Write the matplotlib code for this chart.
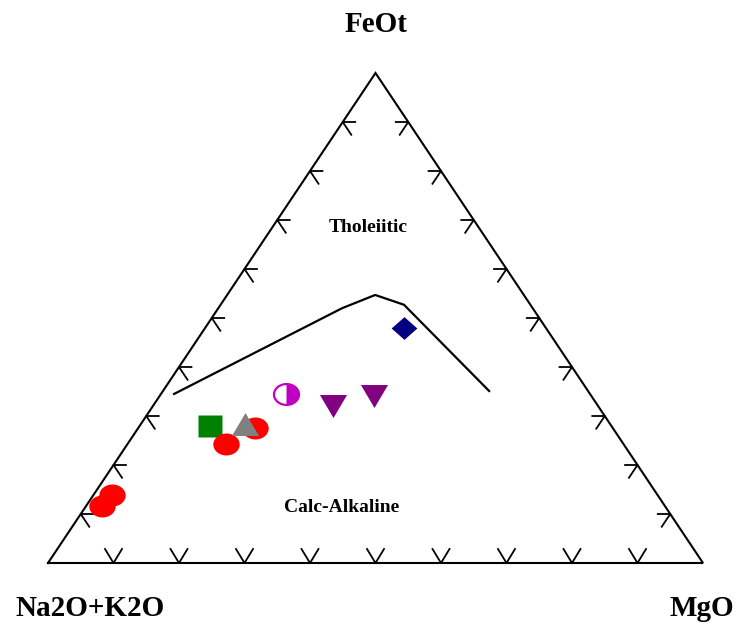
import numpy as np
import matplotlib
matplotlib.use("Agg")
import matplotlib.pyplot as plt
from matplotlib.path import Path
from matplotlib.markers import MarkerStyle
from matplotlib.transforms import Affine2D

# ---------------- data (wt% FeOt, Na2O+K2O, MgO) ----------------
apex_labels = ["FeOt", "Na2O+K2O", "MgO"]
field_labels = ["Tholeiitic", "Calc-Alkaline"]

red_feo = [13.9, 11.6, 24.3, 27.6]
red_alk = [83.3, 85.8, 60.7, 54.6]
red_mgo = [2.8, 2.5, 15.0, 17.8]

green_feo = [28.0]
green_alk = [61.3]
green_mgo = [10.7]

gray_feo = [28.4]
gray_alk = [55.7]
gray_mgo = [15.9]

half_feo = [34.5]
half_alk = [46.4]
half_mgo = [19.1]

purple_feo = [32.1, 34.1]
purple_alk = [40.5, 33.2]
purple_mgo = [27.5, 32.7]

navy_feo = [47.9]
navy_alk = [21.7]
navy_mgo = [30.4]

# Irvine & Baragar boundary
line_feo = [34.5, 52.0, 54.7, 52.7, 35.1]
line_alk = [63.5, 29.1, 22.7, 19.3, 15.1]
line_mgo = [2.0, 18.9, 22.6, 28.0, 49.8]

tick_values = [10, 20, 30, 40, 50, 60, 70, 80, 90]


def tern(f, a, m):
    f = np.asarray(f, float)
    a = np.asarray(a, float)
    m = np.asarray(m, float)
    s = f + a + m
    f, m = f / s, m / s
    return m + f / 2.0, f


def stretched(verts, codes=None, sx=1.18):
    p = Path(np.asarray(verts, float), codes)
    return MarkerStyle(p.transformed(Affine2D().scale(sx, 1.0)))


circ = Path.unit_circle()
ellipse_marker = MarkerStyle(circ.transformed(Affine2D().scale(1.2, 1.0)))
# right half of the ellipse
theta = np.linspace(-np.pi / 2, np.pi / 2, 60)
half_verts = np.column_stack([np.cos(theta), np.sin(theta)])
half_verts = np.vstack([half_verts, [[0, 1], [0, -1]]])
half_marker = MarkerStyle(Path(half_verts).transformed(Affine2D().scale(1.2, 1.0)))
square_marker = stretched([[-1, -1], [1, -1], [1, 1], [-1, 1], [-1, -1]], sx=1.1)
up_tri = stretched([[0, 1], [-1, -1], [1, -1], [0, 1]], sx=1.18)
down_tri = stretched([[0, -1], [-1, 1], [1, 1], [0, -1]], sx=1.18)
diamond = stretched([[0, 1], [1, 0], [0, -1], [-1, 0], [0, 1]], sx=1.13)

plt.rcParams['font.family'] = ['Liberation Serif', 'DejaVu Serif']

fig = plt.figure(figsize=(7.37, 6.30), dpi=100)
ax = fig.add_axes([48 / 737, 67 / 630, 655 / 737, 490 / 630])
ax.set_xlim(0, 1)
ax.set_ylim(0, 1)
ax.axis('off')

# triangle outline
tx, ty = tern([0, 100, 0, 0], [100, 0, 0, 100], [0, 0, 100, 0])
ax.plot(tx, ty, color='black', lw=1.5, solid_joinstyle='miter', clip_on=False)

# tick marks
L = 0.026
Lh = 0.019
for t in tick_values:
    v = t / 100.0
    # bottom edge
    bx, by = tern([0], [100 - t], [t])
    bx, by = bx[0], by[0]
    ax.plot([bx - 0.5 * L, bx, bx + 0.5 * L], [by + L * 1.1, by, by + L * 1.1],
            color='black', lw=1.3, clip_on=False)
    # left edge
    lx, ly = tern([t], [100 - t], [0])
    lx, ly = lx[0], ly[0]
    ax.plot([lx + Lh, lx, lx + 0.5 * L], [ly, ly, ly - L], color='black', lw=1.3, clip_on=False)
    # right edge
    rx, ry = tern([t], [0], [100 - t])
    rx, ry = rx[0], ry[0]
    ax.plot([rx - Lh, rx, rx - 0.5 * L], [ry, ry, ry - L], color='black', lw=1.3, clip_on=False)

# boundary line
x, y = tern(line_feo, line_alk, line_mgo)
ax.plot(x, y, color='black', lw=1.6)

ms = 19
# green square
x, y = tern(green_feo, green_alk, green_mgo)
ax.plot(x, y, ls='none', marker=square_marker, ms=17, color='#008000', mec='none', zorder=3)
# red circles
x, y = tern(red_feo, red_alk, red_mgo)
ax.plot(x, y, ls='none', marker=ellipse_marker, ms=ms, color='#FF0000', mec='none', zorder=4)
# gray triangle
x, y = tern(gray_feo, gray_alk, gray_mgo)
ax.plot(x, y, ls='none', marker=up_tri, ms=19.5, color='#808080', mec='none', zorder=5)
# half-filled circle
x, y = tern(half_feo, half_alk, half_mgo)
ax.plot(x, y, ls='none', marker=half_marker, ms=18, color='#C000C0', mec='none', zorder=5)
ax.plot(x, y, ls='none', marker=ellipse_marker, ms=18, mfc='none', mec='#C000C0', mew=1.6, zorder=6)
# purple down triangles
x, y = tern(purple_feo, purple_alk, purple_mgo)
ax.plot(x, y, ls='none', marker=down_tri, ms=19.5, color='#800080', mec='none', zorder=5)
# navy diamond
x, y = tern(navy_feo, navy_alk, navy_mgo)
ax.plot(x, y, ls='none', marker=diamond, ms=18.5, color='#000080', mec='none', zorder=5)

# labels
fig.text(376 / 737, 1 - 25 / 630, apex_labels[0], ha='center', va='center',
         fontsize=21, fontweight='bold')
fig.text(90 / 737, 1 - 609 / 630, apex_labels[1], ha='center', va='center',
         fontsize=21, fontweight='bold')
fig.text(702 / 737, 1 - 609 / 630, apex_labels[2], ha='center', va='center',
         fontsize=21, fontweight='bold')
fig.text(368 / 737, 1 - 227 / 630, field_labels[0], ha='center', va='center',
         fontsize=14, fontweight='bold')
fig.text(342 / 737, 1 - 508 / 630, field_labels[1], ha='center', va='center',
         fontsize=14, fontweight='bold')

fig.savefig('out.png', dpi=100)
